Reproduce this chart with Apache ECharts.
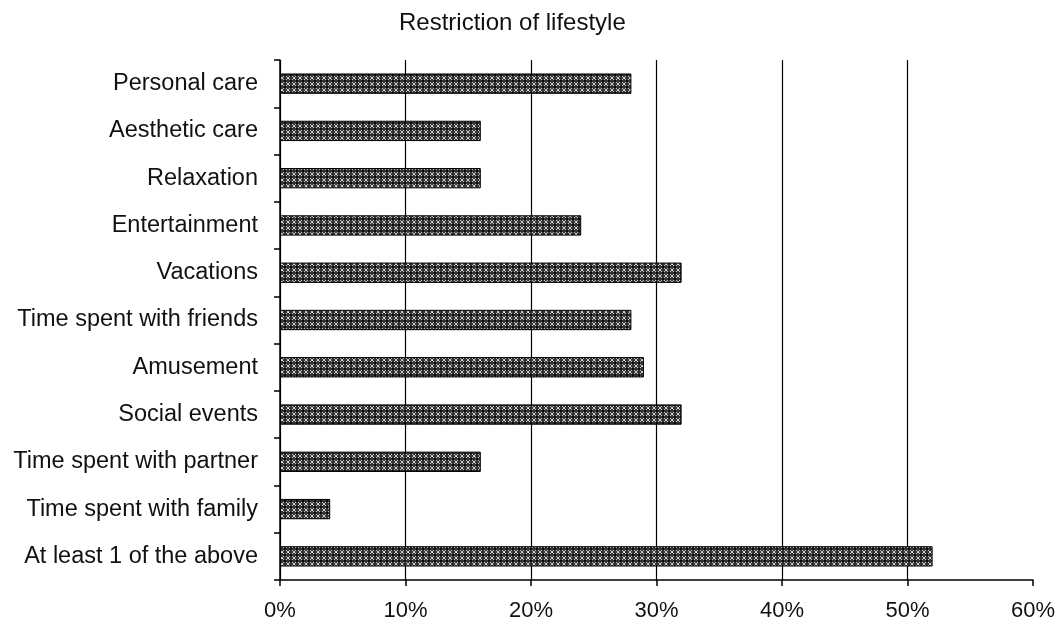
<!DOCTYPE html>
<html>
<head>
<meta charset="utf-8">
<script src="https://cdn.jsdelivr.net/npm/echarts@6/dist/echarts.min.js"></script>
<style>
  html, body { margin: 0; padding: 0; background: #ffffff; }
  #chart { width: 1060px; height: 627px; }
</style>
</head>
<body>
<div id="chart"></div>
<script>
// Lifestyle restrictions, top to bottom
const categories = [
  'Personal care',
  'Aesthetic care',
  'Relaxation',
  'Entertainment',
  'Vacations',
  'Time spent with friends',
  'Amusement',
  'Social events',
  'Time spent with partner',
  'Time spent with family',
  'At least 1 of the above'
];
const percentValues = [28, 16, 16, 24, 32, 28, 29, 32, 16, 4, 52];
const xTickValues = [0, 10, 20, 30, 40, 50, 60];

const FONT = 'Liberation Sans, Arial, sans-serif';

// Dark cross-hatch fill with light diamond dots
function makeHatch() {
  const c = document.createElement('canvas');
  c.width = 6; c.height = 6;
  const g = c.getContext('2d');
  g.fillStyle = '#333333';
  g.fillRect(0, 0, 6, 6);
  g.strokeStyle = '#c4c4c4';
  g.lineWidth = 1;
  g.beginPath();
  g.moveTo(0, 0); g.lineTo(6, 6);
  g.moveTo(6, 0); g.lineTo(0, 6);
  g.stroke();
  g.fillStyle = '#0d0d0d';
  g.fillRect(2, 2, 2, 2);
  g.fillStyle = '#eeeeee';
  g.fillRect(0, 0, 1, 1);
  return c;
}

// vertical gridlines at every tick except the last one (60%)
const gridColors = xTickValues.map((v, i) => i === xTickValues.length - 1 ? 'rgba(0,0,0,0)' : '#000');

const chart = echarts.init(document.getElementById('chart'), null, { renderer: 'canvas' });
chart.setOption({
  backgroundColor: '#ffffff',
  animation: false,
  title: {
    text: 'Restriction of lifestyle',
    left: 394,
    top: 6,
    textStyle: { fontFamily: FONT, fontSize: 24, fontWeight: 'normal', color: '#111' }
  },
  grid: { left: 280, right: 27, top: 60, bottom: 47, containLabel: false },
  xAxis: {
    type: 'value',
    min: 0, max: 60, interval: 10,
    axisLine: { show: true, lineStyle: { color: '#000', width: 1.5 } },
    axisTick: { show: true, length: 6, lineStyle: { color: '#000', width: 1.5 } },
    splitLine: { show: true, lineStyle: { color: gridColors, width: 1.2 } },
    axisLabel: {
      margin: 20,
      fontFamily: FONT, fontSize: 22, color: '#111',
      formatter: v => xTickValues.includes(v) ? v + '%' : ''
    }
  },
  yAxis: {
    type: 'category',
    data: categories,
    inverse: true,
    axisLine: { show: true, lineStyle: { color: '#000', width: 1.5 } },
    axisTick: { show: true, length: 6, alignWithLabel: false, lineStyle: { color: '#000', width: 1.5 } },
    axisLabel: {
      margin: 22,
      fontFamily: FONT, fontSize: 23.5, color: '#111'
    }
  },
  series: [{
    type: 'bar',
    data: percentValues,
    barCategoryGap: '57%',
    itemStyle: {
      color: { image: makeHatch(), repeat: 'repeat' },
      borderColor: '#000',
      borderWidth: 1
    }
  }]
});
</script>
</body>
</html>
